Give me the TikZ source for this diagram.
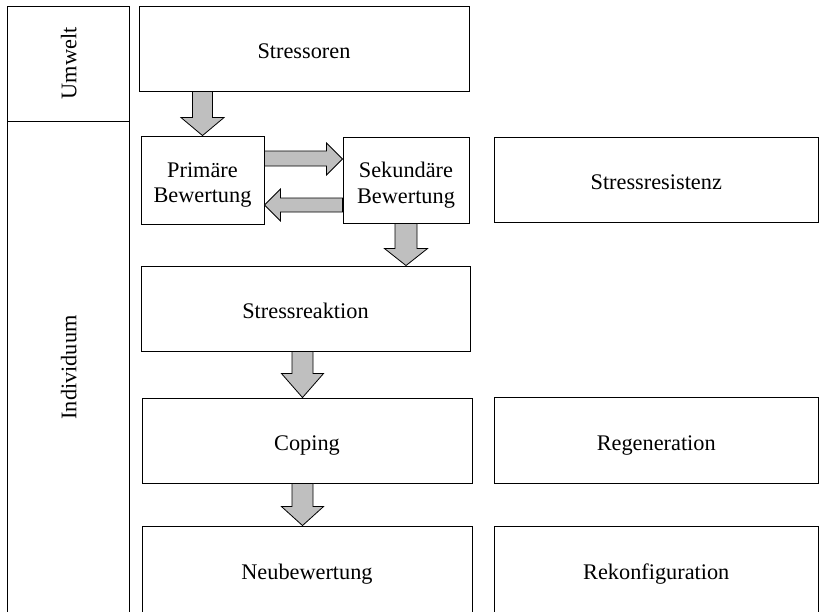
\documentclass[tikz,border=0pt]{standalone}
\usepackage{fontspec}
\setmainfont{Liberation Serif}
\usetikzlibrary{calc}
\tikzset{
  box/.style={draw=black, line width=0.9pt, fill=white, inner sep=0pt},
  txt/.style={inner sep=0pt, font=\fontsize{22.3}{25.3}\selectfont,
    text height=14.7pt, text depth=0pt, yshift=-3pt},
  txttwo/.style={inner sep=0pt, align=center, font=\fontsize{22.3}{25.3}\selectfont, yshift=-5.2pt},
  barrow/.style={draw=black, line width=0.8pt, fill=gray!50, line join=miter},
  collabel/.style={rotate=90, font=\fontsize{22.3}{25.3}\selectfont, inner sep=0pt,
    text height=14.7pt, text depth=0pt}
}
\begin{document}
\begin{tikzpicture}[x=1pt,y=-1pt]
\useasboundingbox (0,0) rectangle (819,611);
\fill[white] (0,0) rectangle (819,611);
% left column
\node[box, minimum width=122pt, minimum height=115pt] (colU) at (68,63.5) {};
\node[box, minimum width=122pt, minimum height=499pt] (colI) at (68,370.5) {};
\node[collabel] (lU) at (69,63.5) {Umwelt};
\node[collabel] (lI) at (69,367.5) {Individuum};
% boxes
\node[box, minimum width=330pt, minimum height=85pt] (stressoren) at (304,48.5) {};
\node[box, minimum width=123pt, minimum height=88pt] (prim) at (202.5,180) {};
\node[box, minimum width=126pt, minimum height=86pt] (sek) at (406,180) {};
\node[box, minimum width=324.5pt, minimum height=85pt] (resist) at (656.25,179.5) {};
\node[box, minimum width=329pt, minimum height=85pt] (reakt) at (305.5,308.5) {};
\node[box, minimum width=330pt, minimum height=85pt] (coping) at (307,440.5) {};
\node[box, minimum width=324.5pt, minimum height=86pt] (regen) at (656.25,440) {};
\node[box, minimum width=330pt, minimum height=87pt] (neu) at (307,569.5) {};
\node[box, minimum width=324.5pt, minimum height=87pt] (rekon) at (656.25,569.5) {};
% texts
\node[txt] (tstressoren) at (stressoren.center) {Stressoren};
\node[txttwo] (tprim) at (prim.center) {Primäre\\Bewertung};
\node[txttwo] (tsek) at (sek.center) {Sekundäre\\Bewertung};
\node[txt] (tresist) at (resist.center) {Stressresistenz};
\node[txt] (treakt) at (reakt.center) {Stressreaktion};
\node[txt] (tcoping) at (coping.center) {Coping};
\node[txt] (tregen) at (regen.center) {Regeneration};
\node[txt] (tneu) at (neu.center) {Neubewertung};
\node[txt] (trekon) at (rekon.center) {Rekonfiguration};
% block arrows (down)
\draw[barrow] let \p1=(stressoren.south), \p2=(prim.north) in
  (\x2-10pt,\y1) -- (\x2-10pt,\y2+18pt) -- (\x2-21.5pt,\y2+18pt) -- (\x2,\y2)
  -- (\x2+21.5pt,\y2+18pt) -- (\x2+10pt,\y2+18pt) -- (\x2+10pt,\y1) -- cycle;
\draw[barrow] let \p1=(sek.south), \p2=(reakt.north) in
  (\x1-11pt,\y1) -- (\x1-11pt,\y2+17pt) -- (\x1-21.5pt,\y2+17pt) -- (\x1,\y2)
  -- (\x1+21.5pt,\y2+17pt) -- (\x1+11pt,\y2+17pt) -- (\x1+11pt,\y1) -- cycle;
\draw[barrow] let \p1=(reakt.south), \p2=(coping.north) in
  (\x1-13.5pt,\y1) -- (\x1-13.5pt,\y2+24pt) -- (\x1-24pt,\y2+24pt) -- (\x1-3pt,\y2)
  -- (\x1+18pt,\y2+24pt) -- (\x1+7.5pt,\y2+24pt) -- (\x1+7.5pt,\y1) -- cycle;
\draw[barrow] let \p1=(coping.south), \p2=(neu.north) in
  (\x1-15pt,\y1) -- (\x1-15pt,\y2+19pt) -- (\x1-25.5pt,\y2+19pt) -- (\x1-4.5pt,\y2)
  -- (\x1+16.5pt,\y2+19pt) -- (\x1+6pt,\y2+19pt) -- (\x1+6pt,\y1) -- cycle;
% horizontal arrows
\draw[barrow] let \p1=(prim.east), \p2=(sek.west) in
  (\x1,\y1+29pt) -- (\x2-16pt,\y1+29pt) -- (\x2-16pt,\y1+37pt) -- (\x2,\y1+21pt)
  -- (\x2-16pt,\y1+5pt) -- (\x2-16pt,\y1+14pt) -- (\x1,\y1+14pt) -- cycle;
\draw[barrow] let \p1=(prim.east), \p2=(sek.west) in
  (\x2,\y1-18pt) -- (\x1+16pt,\y1-18pt) -- (\x1+16pt,\y1-9pt) -- (\x1,\y1-25pt)
  -- (\x1+16pt,\y1-41pt) -- (\x1+16pt,\y1-32pt) -- (\x2,\y1-32pt) -- cycle;
\end{tikzpicture}
\end{document}
